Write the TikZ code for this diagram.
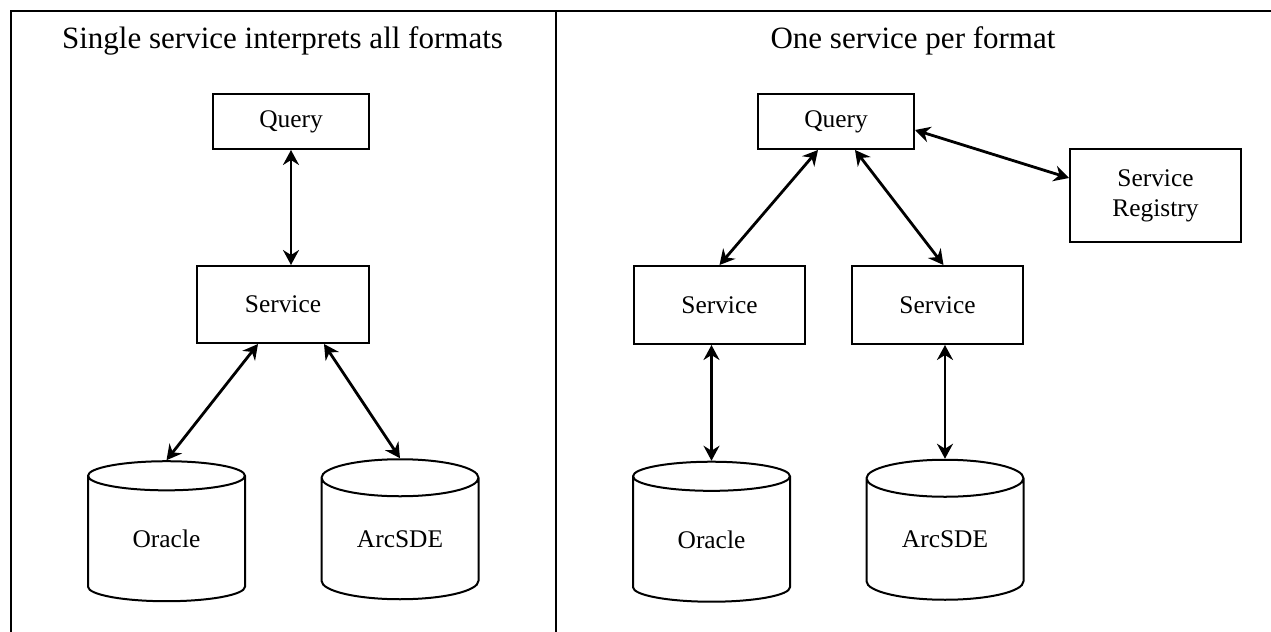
\documentclass[tikz,border=0pt]{standalone}
\usepackage{fontspec}
\setmainfont{Liberation Serif}
\usepackage{tikz}
\usetikzlibrary{shapes, shapes.geometric, calc, arrows.meta, positioning}

\begin{document}
\begin{tikzpicture}[x=0.5pt, y=-0.5pt]
				\tikzstyle{svcbox}=[draw=black, line width=1pt, minimum height=38.5pt, minimum width=86pt, fill=none, text=black, font=\fontsize{12.7}{15}\selectfont]
				\tikzstyle{querybox}=[svcbox, minimum height=27.5pt, minimum width=78pt]
				\tikzstyle{dbstore}=[draw=black, line width=1pt, cylinder, shape border rotate=90, aspect=0.43, minimum height=70pt, minimum width=78.5pt, inner sep=0pt, font=\fontsize{12.7}{15}\selectfont]
				\tikzstyle{link}=[{Stealth[length=7.5pt, width=8pt, inset=2.5pt]}-{Stealth[length=7.5pt, width=8pt, inset=2.5pt]}, line width=1.4pt]
				\tikzstyle{paneltitle}=[anchor=base, font=\fontsize{15.5}{18}\selectfont]
				
				\useasboundingbox (0,0) rectangle (1271,632);
				
				% frame of the two panels
				\draw [line width=1.2pt] (11,632) -- (11,11) -- (1271,11);
				\draw [line width=1.2pt] (556,11) -- (556,632);
				
				\node (titleL) at (282.5,48) [paneltitle] {Single service interprets all formats};
				\node (titleR) at (913,48) [paneltitle] {One service per format};
				
				% left: one service for every format
				\node (queryL) at (291,121.5) [querybox] {Query};
				\node (svcL) at (283,304.5) [svcbox] {Service};
				\node (oraL) at (166.5,539) [dbstore] {Oracle};
				\node (arcL) at (400,539) [dbstore] {ArcSDE};
				
				\draw [link] (queryL.south) -- (queryL.south |- svcL.north);
				\draw [link] ([xshift=-12.5pt]svcL.south) -- (oraL.north);
				\draw [link] ([xshift=20.5pt]svcL.south) -- (arcL.north);
				
				% right: a service for each format
				\node (queryR) at (836,121.5) [querybox] {Query};
				\node (registry) at (1155.5,195.5) [svcbox, minimum height=46.5pt, minimum width=85.5pt, align=center] {Service\\Registry};
				\node (svcR1) at (719.5,305) [svcbox, minimum height=39pt, minimum width=85.5pt] {Service};
				\node (svcR2) at (937.5,305) [svcbox, minimum height=39pt, minimum width=85.5pt] {Service};
				\node (oraR) at (711.5,539.5) [dbstore] {Oracle};
				\node (arcR) at (945,539.5) [dbstore] {ArcSDE};
				
				\draw [link] ([yshift=-4.25pt]queryR.east) -- ([yshift=8.75pt]registry.west);
				\draw [link] ([xshift=-9pt]queryR.south) -- (svcR1.north);
				\draw [link] ([xshift=9.5pt]queryR.south) -- ([xshift=3pt]svcR2.north);
				\draw [link] (svcR1.south -| oraR.north) -- (oraR.north);
				\draw [link] (svcR2.south -| arcR.north) -- (arcR.north);
				
\end{tikzpicture}
\end{document}
